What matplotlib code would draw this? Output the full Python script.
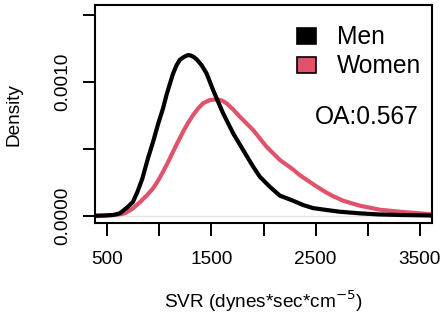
import matplotlib
matplotlib.use("Agg")
import matplotlib.pyplot as plt
from matplotlib.patches import Patch

plt.rcParams['font.family'] = ['Liberation Sans', 'DejaVu Sans']

# Data
men_x = [385, 450, 560, 623, 701, 749, 790, 838, 893, 941, 990, 1037, 1070, 1105,
         1133, 1165, 1197, 1236, 1277, 1303, 1332, 1361, 1406, 1454, 1517, 1565, 1613,
         1709, 1805, 1901, 1965, 2061, 2157, 2284, 2380, 2476, 2605, 2733, 2924, 3100,
         3300, 3615]
men_y = [0.0, 0.000001, 0.000006, 0.000018, 0.000067, 0.000104, 0.000175, 0.000275,
         0.000430, 0.000550, 0.000685, 0.000801, 0.000900, 0.000990, 0.001060, 0.001120,
         0.001162, 0.001184, 0.001199, 0.001195, 0.001184, 0.001165, 0.001124, 0.001062,
         0.000938, 0.000850, 0.000764, 0.000615, 0.000490, 0.000366, 0.000291, 0.000216,
         0.000150, 0.000112, 0.000080, 0.000057, 0.000043, 0.000030, 0.000018, 0.000010,
         0.000006, 0.000002]

women_x = [385, 500, 600, 670, 740, 814, 880, 941, 990, 1037, 1085, 1133, 1181, 1229,
           1277, 1325, 1373, 1421, 1485, 1550, 1600, 1646, 1710, 1773, 1837, 1901, 1965,
           2029, 2157, 2284, 2349, 2445, 2509, 2605, 2668, 2764, 2924, 3116, 3308, 3500,
           3615]
women_y = [0.0, 0.000002, 0.000008, 0.000018, 0.000050, 0.000100, 0.000150, 0.000204,
           0.000262, 0.000328, 0.000400, 0.000477, 0.000553, 0.000627, 0.000693, 0.000751,
           0.000800, 0.000839, 0.000863, 0.000868, 0.000860, 0.000839, 0.000792, 0.000739,
           0.000689, 0.000639, 0.000577, 0.000515, 0.000416, 0.000345, 0.000302, 0.000252,
           0.000218, 0.000172, 0.000146, 0.000112, 0.000075, 0.000045, 0.000030, 0.000018,
           0.000010]

x_ticks = [500, 1000, 1500, 2000, 2500, 3000, 3500]
x_labels = ['500', '', '1500', '', '2500', '', '3500']
y_ticks = [0.0, 0.0005, 0.0010, 0.0015]
y_labels = ['0.0000', '', '0.0010', '']
series_names = ['Men', 'Women']
series_colors = ['black', '#DF536B']
overlap_text = 'OA:0.567'

fig = plt.figure(figsize=(4.45, 3.15), dpi=100)
ax = fig.add_axes([95/445, 1-223/315, (432-95)/445, (223-5)/315])

ax.axhline(0, color='#e4e4e4', lw=1, zorder=1)
ax.plot(men_x, men_y, color=series_colors[0], lw=3, solid_joinstyle='round', zorder=3)
ax.plot(women_x, women_y, color=series_colors[1], lw=3, solid_joinstyle='round', zorder=2)

ax.set_xlim(385, 3615)
ax.set_ylim(-0.000054, 0.001572)

ax.set_xticks(x_ticks)
ax.set_xticklabels(x_labels)
ax.set_yticks(y_ticks)
ax.set_yticklabels(y_labels)
ax.tick_params(axis='both', direction='out', length=9, width=1.4, labelsize=13.7, color='black')
ax.tick_params(axis='x', pad=11.5)
ax.tick_params(axis='y', pad=8, labelrotation=90)
for lab in ax.get_yticklabels():
    lab.set_va('center')
for s in ax.spines.values():
    s.set_linewidth(1.5)

fig.text(263.5/445, 1-308.3/315, 'SVR (dynes*sec*cm$^{-5}$)', ha='center', va='baseline', fontsize=13.7)
fig.text(14/445, 1-115/315, 'Density', ha='center', va='center', rotation=90, fontsize=13.7)

handles = [Patch(facecolor=c, edgecolor='black', lw=1.2) for c in series_colors]
leg = ax.legend(handles, series_names, loc='upper left', bbox_to_anchor=((297-95)/337, 1-(25.5-5)/218),
                frameon=False, fontsize=17.7, handlelength=0.78, handleheight=0.62,
                handletextpad=0.85, labelspacing=0.2, borderpad=0, borderaxespad=0)

ax.text((419-95)/337, 1-(124.3-5)/218, overlap_text, transform=ax.transAxes, ha='right', va='baseline', fontsize=17.7)

fig.savefig('out.png', dpi=100)
